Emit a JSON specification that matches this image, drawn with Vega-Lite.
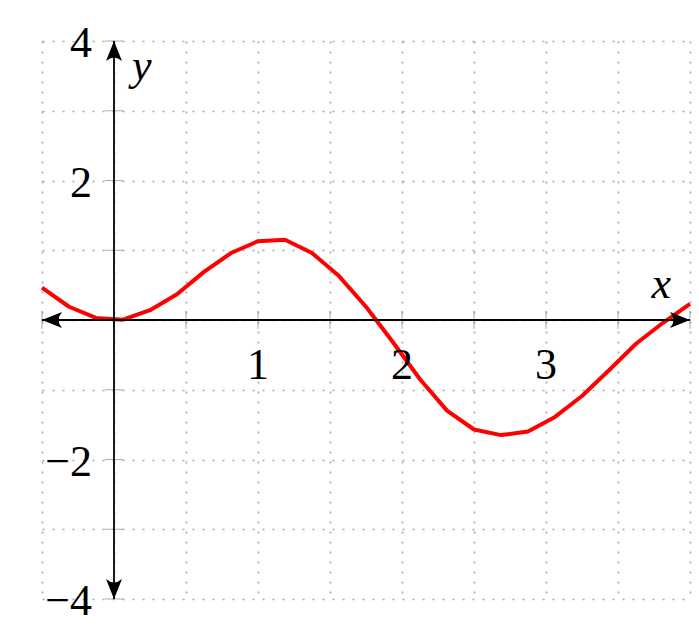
{
  "$schema": "https://vega.github.io/schema/vega-lite/v6.json",
  "width": 648,
  "height": 558,
  "autosize": {"type": "none"},
  "padding": {"left": 42, "top": 41, "right": 9, "bottom": 43},
  "background": "white",
  "config": {
    "view": {"stroke": null},
    "axis": {"grid": true, "gridColor": "#a8a8a8", "gridDash": [2, 8], "gridWidth": 1.6, "domain": false, "ticks": false, "labels": false, "title": null}
  },
  "datasets": {
    "curve": [
      {"x": -0.5, "y": 0.463},
      {"x": -0.3125, "y": 0.19},
      {"x": -0.125, "y": 0.03},
      {"x": 0.0625, "y": 0.005},
      {"x": 0.25, "y": 0.14},
      {"x": 0.4375, "y": 0.37},
      {"x": 0.625, "y": 0.69},
      {"x": 0.8125, "y": 0.96},
      {"x": 1.0, "y": 1.13},
      {"x": 1.1875, "y": 1.15},
      {"x": 1.375, "y": 0.96},
      {"x": 1.5625, "y": 0.63},
      {"x": 1.75, "y": 0.19},
      {"x": 1.9375, "y": -0.32},
      {"x": 2.125, "y": -0.85},
      {"x": 2.3125, "y": -1.3},
      {"x": 2.5, "y": -1.57},
      {"x": 2.6875, "y": -1.65},
      {"x": 2.875, "y": -1.6},
      {"x": 3.0625, "y": -1.39},
      {"x": 3.25, "y": -1.09},
      {"x": 3.4375, "y": -0.72},
      {"x": 3.625, "y": -0.34},
      {"x": 3.8125, "y": -0.04},
      {"x": 4.0, "y": 0.23}
    ],
    "axislines": [
      {"x": -0.5, "y": 0, "x2": 4, "y2": 0},
      {"x": 0, "y": -4, "x2": 0, "y2": 4}
    ],
    "arrows": [
      {"x": 4, "y": 0, "dir": "right"},
      {"x": -0.5, "y": 0, "dir": "left"},
      {"x": 0, "y": 4, "dir": "up"},
      {"x": 0, "y": -4, "dir": "down"}
    ],
    "xticks": [
      {"v": -0.5}, {"v": 0}, {"v": 0.5}, {"v": 1}, {"v": 1.5}, {"v": 2}, {"v": 2.5}, {"v": 3}, {"v": 3.5}, {"v": 4}
    ],
    "yticks": [
      {"v": -4}, {"v": -3}, {"v": -2}, {"v": -1}, {"v": 0}, {"v": 1}, {"v": 2}, {"v": 3}, {"v": 4}
    ],
    "xlabels": [
      {"v": 1, "text": "1"}, {"v": 2, "text": "2"}, {"v": 3, "text": "3"}
    ],
    "ylabels": [
      {"v": 4, "text": "4"}, {"v": 2, "text": "2"}, {"v": -2, "text": "−2"}, {"v": -4, "text": "−4"}
    ]
  },
  "layer": [
    {
      "data": {"name": "curve"},
      "mark": {"type": "line", "color": "#ff0000", "strokeWidth": 4, "strokeJoin": "round"},
      "encoding": {
        "x": {"field": "x", "type": "quantitative", "scale": {"domain": [-0.5, 4], "nice": false, "zero": false}, "axis": {"values": [-0.5, 0, 0.5, 1, 1.5, 2, 2.5, 3, 3.5, 4]}},
        "y": {"field": "y", "type": "quantitative", "scale": {"domain": [-4, 4], "nice": false, "zero": false}, "axis": {"values": [-4, -3, -2, -1, 0, 1, 2, 3, 4]}}
      }
    },
    {
      "data": {"name": "xticks"},
      "mark": {"type": "tick", "orient": "vertical", "color": "#888888", "size": 18, "thickness": 1},
      "encoding": {
        "x": {"field": "v", "type": "quantitative"},
        "y": {"datum": 0, "type": "quantitative"}
      }
    },
    {
      "data": {"name": "yticks"},
      "mark": {"type": "tick", "orient": "horizontal", "color": "#888888", "size": 18, "thickness": 1},
      "encoding": {
        "x": {"datum": 0, "type": "quantitative"},
        "y": {"field": "v", "type": "quantitative"}
      }
    },
    {
      "data": {"name": "axislines"},
      "mark": {"type": "rule", "color": "black", "strokeWidth": 1.8},
      "encoding": {
        "x": {"field": "x", "type": "quantitative"},
        "y": {"field": "y", "type": "quantitative"},
        "x2": {"field": "x2"},
        "y2": {"field": "y2"}
      }
    },
    {
      "data": {"name": "arrows"},
      "mark": {"type": "point", "filled": true, "color": "black", "opacity": 1, "size": 1600},
      "encoding": {
        "x": {"field": "x", "type": "quantitative"},
        "y": {"field": "y", "type": "quantitative"},
        "shape": {
          "field": "dir", "type": "nominal", "legend": null,
          "scale": {
            "domain": ["right", "left", "up", "down"],
            "range": [
              "M0,0 L-1,-0.4 Q-0.65,0 -1,0.4 Z",
              "M0,0 L1,-0.4 Q0.65,0 1,0.4 Z",
              "M0,0 L-0.4,1 Q0,0.65 0.4,1 Z",
              "M0,0 L-0.4,-1 Q0,-0.65 0.4,-1 Z"
            ]
          }
        }
      }
    },
    {
      "data": {"name": "xlabels"},
      "mark": {"type": "text", "font": "Liberation Serif", "fontSize": 44, "align": "center", "baseline": "alphabetic", "dy": 59, "color": "black"},
      "encoding": {
        "x": {"field": "v", "type": "quantitative"},
        "y": {"datum": 0, "type": "quantitative"},
        "text": {"field": "text"}
      }
    },
    {
      "data": {"name": "ylabels"},
      "mark": {"type": "text", "font": "Liberation Serif", "fontSize": 44, "align": "right", "baseline": "alphabetic", "dx": -22, "dy": 16, "color": "black"},
      "encoding": {
        "x": {"datum": 0, "type": "quantitative"},
        "y": {"field": "v", "type": "quantitative"},
        "text": {"field": "text"}
      }
    },
    {
      "data": {"values": [{"x": 4, "y": 0, "text": "x"}]},
      "mark": {"type": "text", "font": "Liberation Serif", "fontStyle": "italic", "fontSize": 44, "align": "right", "baseline": "alphabetic", "dx": -19, "dy": -22, "color": "black"},
      "encoding": {
        "x": {"field": "x", "type": "quantitative"},
        "y": {"field": "y", "type": "quantitative"},
        "text": {"field": "text"}
      }
    },
    {
      "data": {"values": [{"x": 0, "y": 4, "text": "y"}]},
      "mark": {"type": "text", "font": "Liberation Serif", "fontStyle": "italic", "fontSize": 44, "align": "left", "baseline": "alphabetic", "dx": 18, "dy": 39, "color": "black"},
      "encoding": {
        "x": {"field": "x", "type": "quantitative"},
        "y": {"field": "y", "type": "quantitative"},
        "text": {"field": "text"}
      }
    }
  ]
}
